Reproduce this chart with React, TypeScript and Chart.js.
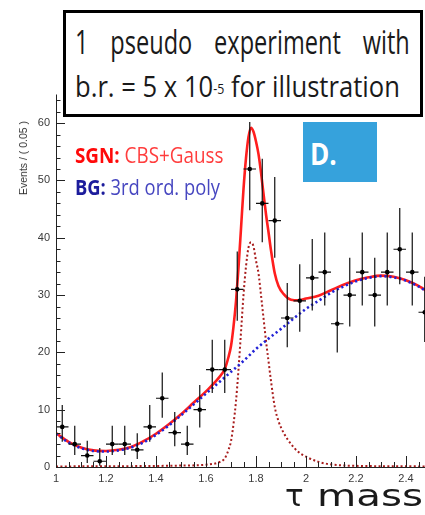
import React, { useEffect, useLayoutEffect, useRef, useState } from "react";
import { Chart, registerables } from "chart.js";

Chart.register(...registerables);

// ---- data ----
const binCenters = [
  1.025, 1.075, 1.125, 1.175, 1.225, 1.275, 1.325, 1.375, 1.425, 1.475,
  1.525, 1.575, 1.625, 1.675, 1.725, 1.775, 1.825, 1.875, 1.925, 1.975,
  2.025, 2.075, 2.125, 2.175, 2.225, 2.275, 2.325, 2.375, 2.425, 2.475,
];
const counts = [
  7, 4, 2, 1, 4, 4, 3, 7, 12, 6,
  4, 10, 17, 17, 31, 52, 46, 43, 26, 29,
  33, 34, 25, 30, 34, 30, 34, 38, 34, 27,
];
const errUp = [
  3.8, 3.2, 2.6, 2.3, 3.2, 3.2, 2.9, 3.8, 4.5, 3.6,
  3.2, 4.3, 5.2, 5.2, 6.6, 8.2, 7.8, 7.6, 6.1, 6.4,
  6.8, 6.9, 6.0, 6.5, 6.9, 6.5, 6.9, 7.2, 6.9, 6.2,
];
const errDown = [
  2.6, 1.9, 1.3, 0.8, 1.9, 1.9, 1.6, 2.6, 3.4, 2.4,
  1.9, 3.1, 4.1, 4.1, 5.5, 7.2, 6.8, 6.5, 5.1, 5.4,
  5.7, 5.8, 5.0, 5.5, 5.8, 5.5, 5.8, 6.1, 5.8, 5.2,
];
const binHalfWidth = 0.025;

// total fit (CBS + Gauss + 3rd order poly)
const totalX = [
  1.0, 1.05, 1.1, 1.15, 1.2, 1.25, 1.3, 1.35, 1.4, 1.45, 1.5, 1.55, 1.6, 1.65,
  1.675, 1.69, 1.7, 1.71, 1.72, 1.73, 1.74, 1.75, 1.76, 1.77, 1.78, 1.79, 1.8,
  1.81, 1.82, 1.83, 1.84, 1.85, 1.86, 1.875, 1.89, 1.91, 1.94, 1.97, 2.0, 2.05,
  2.1, 2.15, 2.2, 2.25, 2.3, 2.35, 2.4, 2.45, 2.5,
];
const totalY = [
  5.9, 4.4, 3.4, 2.9, 2.8, 3.0, 3.5, 4.5, 5.8, 7.4, 9.2, 11.2, 13.2, 15.5,
  17.1, 19.2, 21.1, 24.5, 28.9, 34.8, 41.6, 48.5, 53.9, 57.6, 59.2, 58.5, 56.8,
  54.6, 51.4, 47.7, 44.1, 41.0, 37.8, 33.8, 31.6, 30.2, 29.2, 29.1, 29.4, 29.9,
  30.85, 31.8, 32.6, 33.1, 33.4, 33.2, 32.6, 31.6, 30.2,
];

// background: 3rd order poly
const bgX = [
  1.0, 1.05, 1.1, 1.15, 1.2, 1.25, 1.3, 1.35, 1.4, 1.45, 1.5, 1.55, 1.6, 1.65,
  1.7, 1.75, 1.8, 1.85, 1.9, 1.95, 2.0, 2.05, 2.1, 2.15, 2.2, 2.25, 2.3, 2.35,
  2.4, 2.45, 2.5,
];
const bgY = [
  5.8, 4.3, 3.3, 2.8, 2.7, 2.9, 3.4, 4.3, 5.6, 7.2, 9.0, 10.9, 12.8, 14.7,
  16.6, 18.5, 20.6, 22.4, 24.1, 25.9, 27.6, 29.0, 30.4, 31.5, 32.4, 33.0, 33.3,
  33.1, 32.5, 31.5, 30.1,
];

// signal: CBS + Gauss
const sigX = [
  1.0, 1.3, 1.5, 1.6, 1.65, 1.675, 1.69, 1.7, 1.71, 1.72, 1.73, 1.74, 1.75,
  1.76, 1.77, 1.78, 1.79, 1.8, 1.81, 1.82, 1.83, 1.84, 1.85, 1.86, 1.875, 1.89,
  1.91, 1.94, 1.97, 2.0, 2.05, 2.1, 2.2, 2.5,
];
const sigY = [
  0.1, 0.15, 0.25, 0.4, 0.8, 1.5, 3.0, 4.5, 7.5, 11.5, 17, 23.5, 30,
  35, 38.3, 39.2, 38.5, 36, 33.8, 30, 26, 22, 18.5, 15, 10.5, 8,
  6, 4, 2.6, 1.8, 0.9, 0.45, 0.2, 0.1,
];

const xTickValues = [1, 1.2, 1.4, 1.6, 1.8, 2, 2.2, 2.4];
const xTickLabels = ["1", "1.2", "1.4", "1.6", "1.8", "2", "2.2", "2.4"];
const yTickValues = [0, 10, 20, 30, 40, 50, 60];
const yTickLabels = ["0", "10", "20", "30", "40", "50", "60"];

const X_MIN = 1;
const X_MAX = 2.5;
const Y_MIN = 0;
const Y_MAX = 65;

const toPts = (xs: number[], ys: number[]) => xs.map((x, i) => ({ x, y: ys[i] }));

const histPlugin = {
  id: "histPoints",
  afterDatasetsDraw(chart: any) {
    const { ctx } = chart;
    const xs = chart.scales.x;
    const ys = chart.scales.y;
    ctx.save();
    ctx.strokeStyle = "#111";
    ctx.fillStyle = "#000";
    ctx.lineWidth = 1.2;
    binCenters.forEach((c, i) => {
      const px = xs.getPixelForValue(c);
      const py = ys.getPixelForValue(counts[i]);
      const top = ys.getPixelForValue(counts[i] + errUp[i]);
      const bot = ys.getPixelForValue(Math.max(0, counts[i] - errDown[i]));
      const l = xs.getPixelForValue(c - binHalfWidth);
      const r = xs.getPixelForValue(c + binHalfWidth);
      ctx.beginPath();
      ctx.moveTo(px, top);
      ctx.lineTo(px, bot);
      ctx.moveTo(l, py);
      ctx.lineTo(r, py);
      ctx.stroke();
      ctx.beginPath();
      ctx.arc(px, py, 2.3, 0, Math.PI * 2);
      ctx.fill();
    });
    ctx.restore();
  },
  afterDraw(chart: any) {
    const { ctx, chartArea } = chart;
    const xs = chart.scales.x;
    const ys = chart.scales.y;
    ctx.save();
    ctx.strokeStyle = "#222";
    ctx.lineWidth = 1;
    ctx.beginPath();
    ctx.moveTo(chartArea.left + 0.5, chartArea.top);
    ctx.lineTo(chartArea.left + 0.5, chartArea.bottom + 0.5);
    ctx.lineTo(chartArea.right, chartArea.bottom + 0.5);
    ctx.stroke();
    ctx.beginPath();
    for (let v = Y_MIN; v <= Y_MAX + 1e-9; v += 2) {
      const py = Math.round(ys.getPixelForValue(v)) + 0.5;
      const len = v % 10 === 0 ? 9 : 4.5;
      ctx.moveTo(chartArea.left, py);
      ctx.lineTo(chartArea.left + len, py);
    }
    for (let k = 0; k <= 30; k++) {
      const v = X_MIN + k * 0.05;
      const px = Math.round(xs.getPixelForValue(v)) + 0.5;
      const len = k % 4 === 0 ? 11 : 5;
      ctx.moveTo(px, chartArea.bottom);
      ctx.lineTo(px, chartArea.bottom - len);
    }
    ctx.stroke();
    ctx.restore();
  },
};

// Horizontally squeezes/stretches its content to a given width (condensed look).
function FitText({ width, style, children }: { width: number; style: any; children: any }) {
  const ref = useRef<HTMLSpanElement | null>(null);
  const [scale, setScale] = useState(1);
  useLayoutEffect(() => {
    const el = ref.current;
    if (!el) return;
    const measure = () => {
      const w = el.offsetWidth;
      if (w > 0) setScale(width / w);
    };
    measure();
    const f = (document as any).fonts;
    if (f && f.ready) f.ready.then(measure);
  }, [width]);
  return (
    <div
      style={{
        position: "absolute",
        whiteSpace: "nowrap",
        transform: `scaleX(${scale})`,
        transformOrigin: "left top",
        ...style,
      }}
    >
      <span ref={ref} style={{ display: "inline-block" }}>
        {children}
      </span>
    </div>
  );
}

export default function App() {
  const ref = useRef<HTMLCanvasElement | null>(null);

  useEffect(() => {
    if (!ref.current) return;
    const chart = new Chart(ref.current, {
      type: "line",
      data: {
        datasets: [
          {
            label: "BG",
            data: toPts(bgX, bgY),
            borderColor: "#2323d6",
            borderWidth: 2.6,
            borderDash: [2.2, 2.8],
            pointRadius: 0,
            cubicInterpolationMode: "monotone",
            fill: false,
          },
          {
            label: "Total",
            data: toPts(totalX, totalY),
            borderColor: "#ff1e1e",
            borderWidth: 2.6,
            pointRadius: 0,
            cubicInterpolationMode: "monotone",
            fill: false,
          },
          {
            label: "SGN",
            data: toPts(sigX, sigY),
            borderColor: "#a81c1c",
            borderWidth: 2,
            borderDash: [2, 2.4],
            pointRadius: 0,
            cubicInterpolationMode: "monotone",
            fill: false,
          },
        ],
      },
      options: {
        animation: false,
        responsive: false,
        events: [],
        layout: { padding: { left: 0, right: 9, top: 94.5, bottom: 0 } },
        plugins: {
          legend: { display: false },
          tooltip: { enabled: false },
          title: { display: false },
        },
        scales: {
          x: {
            type: "linear",
            min: X_MIN,
            max: X_MAX,
            afterBuildTicks: (s: any) => {
              s.ticks = xTickValues.map((v) => ({ value: v }));
            },
            afterFit: (s: any) => {
              s.height = 48;
            },
            grid: { display: false, drawTicks: false },
            border: { display: false },
            ticks: {
              autoSkip: false,
              maxRotation: 0,
              padding: 5,
              color: "#3a3a3a",
              font: { family: "'Liberation Sans', Arial, sans-serif", size: 11 },
              callback: (v: any) => {
                const i = xTickValues.findIndex((t) => Math.abs(t - Number(v)) < 1e-6);
                return i >= 0 ? xTickLabels[i] : "";
              },
            },
          },
          y: {
            type: "linear",
            min: Y_MIN,
            max: Y_MAX,
            afterBuildTicks: (s: any) => {
              s.ticks = yTickValues.map((v) => ({ value: v }));
            },
            afterFit: (s: any) => {
              s.width = 56;
            },
            grid: { display: false, drawTicks: false },
            border: { display: false },
            ticks: {
              padding: 6,
              color: "#3a3a3a",
              font: { family: "'Liberation Sans', Arial, sans-serif", size: 11 },
              callback: (v: any) => {
                const i = yTickValues.indexOf(Number(v));
                return i >= 0 ? yTickLabels[i] : "";
              },
            },
          },
        },
      },
      plugins: [histPlugin],
    } as any);
    return () => chart.destroy();
  }, []);

  const sans = "'Open Sans', 'Noto Sans', sans-serif";

  return (
    <div
      style={{
        position: "absolute",
        left: 0,
        top: 0,
        width: 425,
        height: 515,
        overflow: "hidden",
        background: "#fff",
      }}
    >
      <canvas ref={ref} width={440} height={515} style={{ display: "block", width: 440, height: 515 }} />

      {/* y axis title */}
      <div
        style={{
          position: "absolute",
          left: 23,
          top: 158,
          transform: "translate(-50%, -50%) rotate(-90deg)",
          whiteSpace: "nowrap",
          fontFamily: "'Liberation Sans', Arial, sans-serif",
          fontSize: 10.5,
          color: "#333",
        }}
      >
        Events / ( 0.05 )
      </div>

      {/* info box */}
      <div
        style={{
          position: "absolute",
          left: 63,
          top: 10,
          width: 360,
          height: 107,
          boxSizing: "border-box",
          border: "3px solid #000",
          background: "#fff",
          fontFamily: sans,
          color: "#1a1a1a",
        }}
      >
        <FitText
          width={335}
          style={{ left: 9, top: 11, fontSize: 33, lineHeight: "36px", wordSpacing: 22 }}
        >
          1 pseudo experiment with
        </FitText>
        <FitText width={325} style={{ left: 9, top: 57, fontSize: 29, lineHeight: "32px" }}>
          b.r. = 5 x 10
          <sup style={{ fontSize: 14, verticalAlign: "top", position: "relative", top: 3 }}>-5</sup> for
          illustration
        </FitText>
      </div>

      {/* D. badge */}
      <div
        style={{
          position: "absolute",
          left: 303,
          top: 122,
          width: 74,
          height: 60,
          background: "#36a2dc",
        }}
      >
        <FitText
          width={27}
          style={{
            left: 7,
            top: 17,
            color: "#fff",
            fontFamily: sans,
            fontWeight: "bold",
            fontSize: 30,
            lineHeight: "30px",
          }}
        >
          D.
        </FitText>
      </div>

      {/* legend */}
      <FitText
        width={148}
        style={{ left: 75, top: 143, fontFamily: sans, fontSize: 21, lineHeight: "24px" }}
      >
        <span style={{ color: "#ff0a0a", fontWeight: "bold" }}>SGN:</span>{" "}
        <span style={{ color: "#ff3d3d" }}>CBS+Gauss</span>
      </FitText>
      <FitText
        width={145}
        style={{ left: 75, top: 175, fontFamily: sans, fontSize: 21, lineHeight: "24px" }}
      >
        <span style={{ color: "#1c1c9c", fontWeight: "bold" }}>BG:</span>{" "}
        <span style={{ color: "#4646c0" }}>3rd ord. poly</span>
      </FitText>

      {/* x axis title */}
      <div
        style={{
          position: "absolute",
          left: 285,
          top: 480,
          fontFamily: "'DejaVu Sans', sans-serif",
          fontSize: 31,
          lineHeight: "31px",
          color: "#1a1a1a",
          whiteSpace: "nowrap",
        }}
      >
        τ
      </div>
      <div
        style={{
          position: "absolute",
          left: 317,
          top: 480,
          fontFamily: "'DejaVu Sans', sans-serif",
          fontSize: 31,
          lineHeight: "31px",
          color: "#1a1a1a",
          whiteSpace: "nowrap",
          transform: "scaleX(1.3)",
          transformOrigin: "left center",
        }}
      >
        mass
      </div>
    </div>
  );
}
